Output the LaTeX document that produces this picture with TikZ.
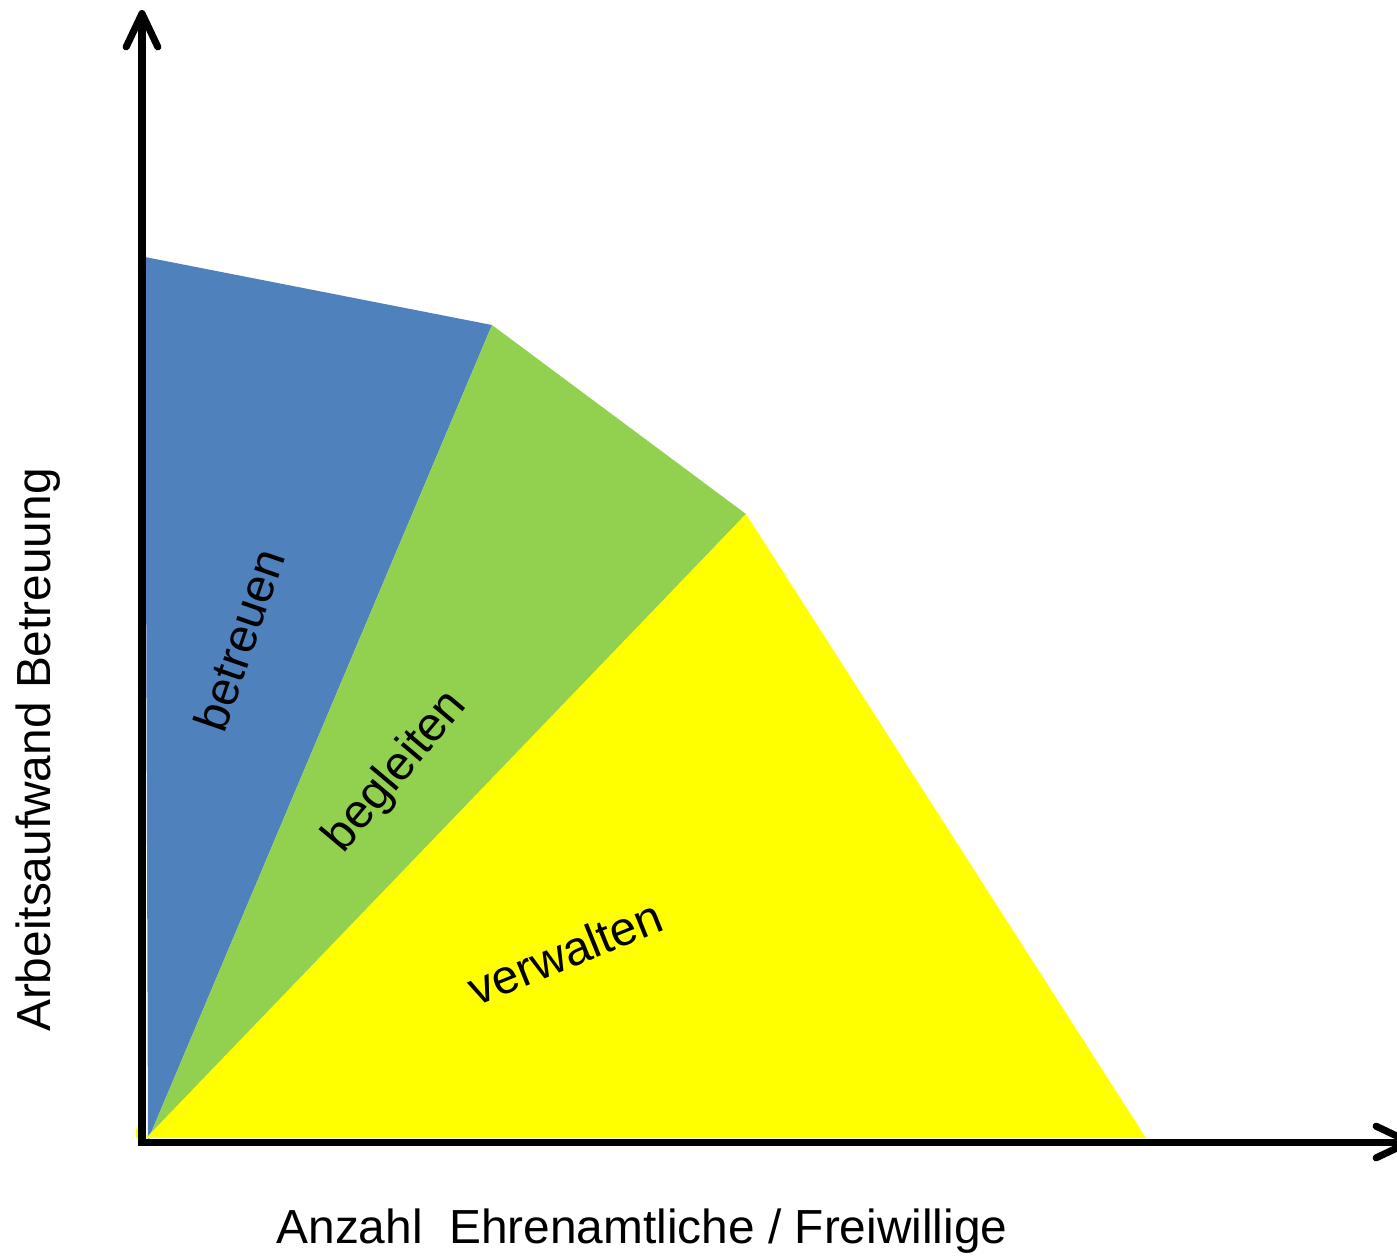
\documentclass[tikz,border=0pt]{standalone}
\usepackage{fontspec}
\setmainfont{Liberation Sans}
\usetikzlibrary{arrows.meta}

\begin{document}
\begin{tikzpicture}[x=0.01cm, y=-0.01cm]
    \definecolor{myBlue}{RGB}{79,129,189}
    \definecolor{myGreen}{RGB}{146,208,80}
    \definecolor{myYellow}{RGB}{255,255,0}
    \tikzset{
        axis/.style={line width=2pt, -{Straight Barb[length=9.5pt, width=9pt, round]}},
        lbl/.style={font=\fontsize{13.6}{16}\selectfont, inner sep=0pt}
    }
    \useasboundingbox (0,0) rectangle (1397,1259);

    % Flaechen
    \fill[myBlue] (145,257) -- (492,325) -- (148,1140) -- cycle;
    \fill[myGreen] (492,325) -- (746,514) -- (148,1140) -- cycle;
    \fill[myYellow] (746,514) -- (1146,1138) -- (136,1138) -- (136,1128) -- (148,1136) -- cycle;

    % Achsen
    \coordinate (O) at (142,1142);
    \coordinate (ytop) at (142,10);
    \coordinate (xend) at (1413,1142);
    \draw[axis] ([yshift=-1pt]O) -- (ytop);
    \draw[axis] ([xshift=-1pt]O) -- (xend);

    \node[lbl, rotate=90] (ylab) at (38,750) {Arbeitsaufwand Betreuung};
    \node[lbl] (xlab) at (642,1231) {Anzahl\ \ Ehrenamtliche / Freiwillige};

    \node[lbl, rotate=71] (betreuen) at (239,640) {betreuen};
    \node[lbl, rotate=50] (begleiten) at (396,772) {begleiten};
    \node[lbl, rotate=22] (verwalten) at (565,952) {verwalten};
\end{tikzpicture}
\end{document}
